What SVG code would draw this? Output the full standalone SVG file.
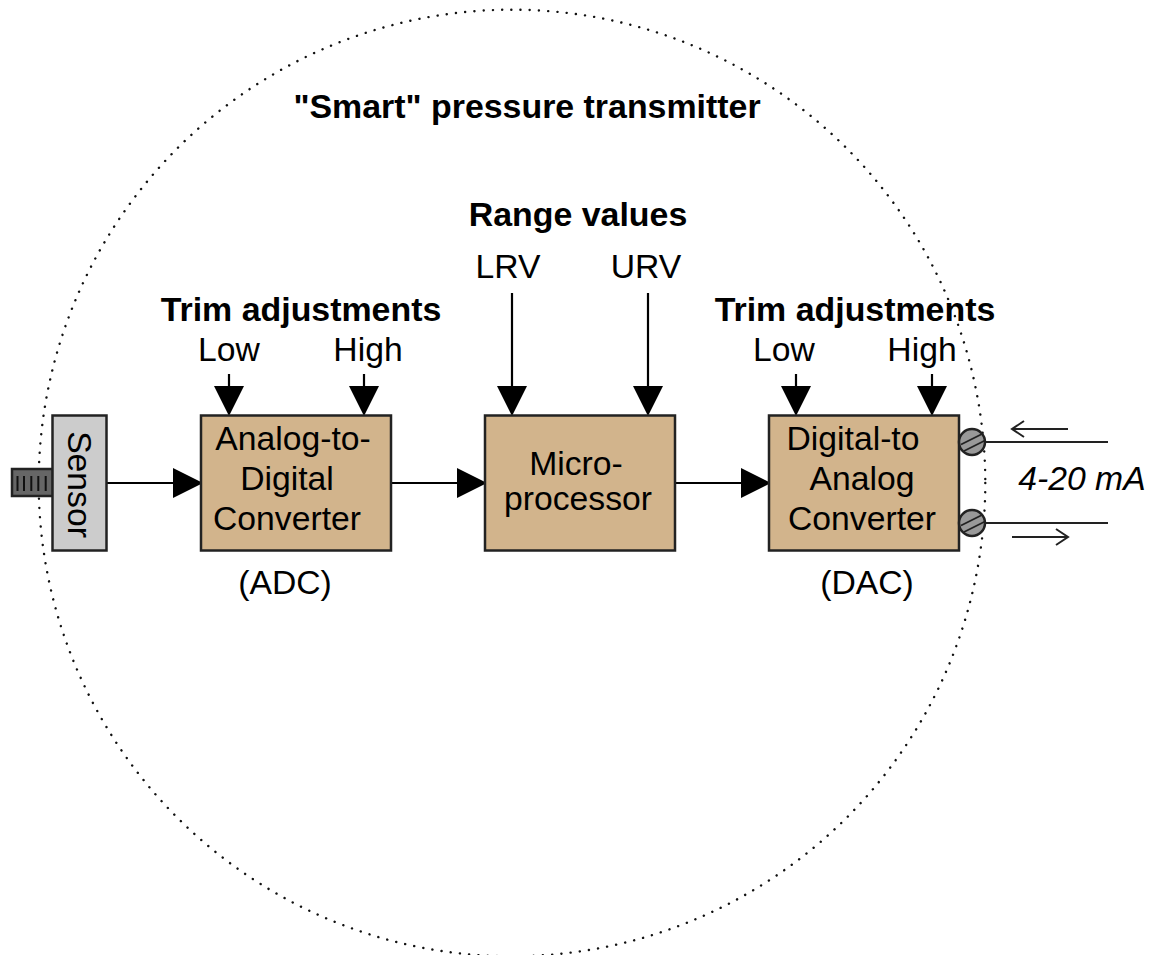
<svg xmlns="http://www.w3.org/2000/svg" width="1149" height="955" viewBox="0 0 1149 955">
<style>
text{font-family:"Liberation Sans",Arial,sans-serif;font-size:33.700px;fill:#000;text-anchor:middle}
.b{font-weight:bold;font-size:33.900px}
.box{fill:#d2b48c;stroke:#222;stroke-width:2.5}
.ln{stroke:#000;stroke-width:2.2;fill:none}
.thin{stroke:#222;stroke-width:2;fill:none}
.hd{fill:#000}
</style>
<defs>
<g id="screw"><circle r="13" fill="#999" stroke="#222" stroke-width="2.5"/><path d="M-11 2.500L10 -8M-8 9L13 -1.500" stroke="#222" stroke-width="1.800" fill="none"/></g>
</defs>
<circle id="boundary" cx="512" cy="483" r="473.300" fill="none" stroke="#111" stroke-width="2.400" stroke-linecap="round" stroke-dasharray="0.100 9.150"/>
<g id="connectors">
<path class="ln" d="M107 483H176M391 483H460M675 483H744"/>
<path class="hd" d="M173 468L203 483L173 498ZM457 468L487 483L457 498ZM741 468L771 483L741 498Z"/>
<path class="ln" d="M229 374V388M364 374V388M512 293V388M648 293V388M796 374V388M932 374V388"/>
<path class="hd" d="M214 386L229 416L244 386ZM349 386L364 416L379 386ZM497 386L512 416L527 386ZM633 386L648 416L663 386ZM781 386L796 416L811 386ZM917 386L932 416L947 386Z"/>
<path class="thin" d="M986 442H1108M986 523H1108"/>
<path class="thin" d="M1068 429H1012M1024 421L1012 429L1024 437M1012 537H1068M1056 529L1068 537L1056 545"/>
</g>
<g id="sensor">
<rect x="12" y="469" width="41" height="27" fill="#666" stroke="#222" stroke-width="2.500"/>
<path d="M17.500 476V491M24 476V491M31.300 476V491M38.300 476V491M45.700 476V491" stroke="#111" stroke-width="2"/>
<rect x="52.500" y="415.500" width="54" height="135" fill="#ccc" stroke="#222" stroke-width="2.500"/>
<text transform="translate(68,484.500) rotate(90)">Sensor</text>
</g>
<g id="adc">
<rect class="box" x="201" y="415.500" width="190" height="135"/>
<text x="293" y="450">Analog-to-</text>
<text x="287" y="490">Digital</text>
<text x="287" y="530">Converter</text>
</g>
<g id="microprocessor">
<rect class="box" x="485" y="415.500" width="190" height="135"/>
<text x="576" y="475">Micro-</text>
<text x="578" y="510">processor</text>
</g>
<g id="dac">
<rect class="box" x="769" y="415.500" width="190" height="135"/>
<text x="853" y="450">Digital-to</text>
<text x="862" y="490">Analog</text>
<text x="862" y="530">Converter</text>
</g>
<g id="terminals">
<use href="#screw" x="972" y="442"/>
<use href="#screw" x="972" y="523"/>
</g>
<g id="labels">
<text class="b" x="527" y="118">"Smart" pressure transmitter</text>
<text class="b" x="578" y="226">Range values</text>
<text x="508" y="278">LRV</text>
<text x="646" y="278">URV</text>
<text class="b" x="301" y="321">Trim adjustments</text>
<text x="229" y="361">Low</text>
<text x="368" y="361">High</text>
<text class="b" x="855" y="321">Trim adjustments</text>
<text x="784" y="361">Low</text>
<text x="922" y="361">High</text>
<text x="285" y="594">(ADC)</text>
<text x="867" y="594">(DAC)</text>
<text x="1082" y="490" font-style="italic">4-20 mA</text>
</g>
</svg>
